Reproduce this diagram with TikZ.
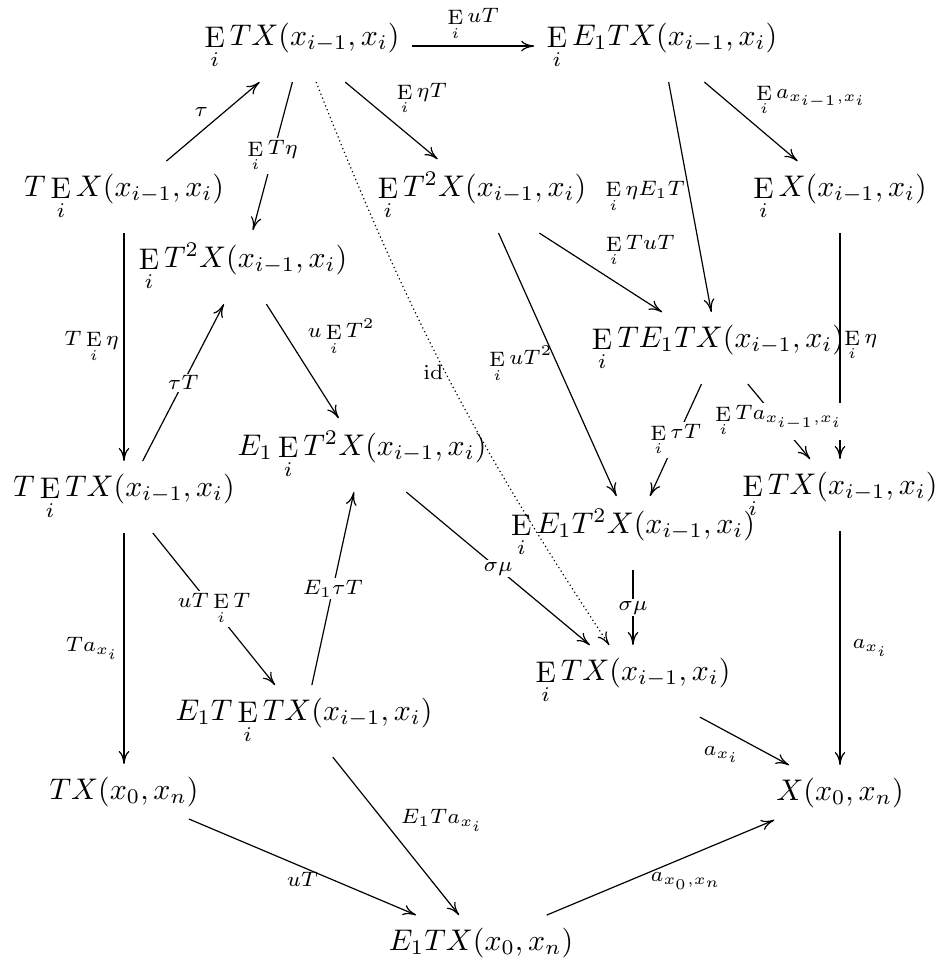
\documentclass[tikz,border=0pt]{standalone}
\usepackage{amsmath}
\usetikzlibrary{arrows.meta}
\newcommand{\Ei}{\mathop{\mathrm{E}}\limits_{i}}

\begin{document}
\begin{tikzpicture}[
	x=0.335pt, y=-0.335pt,
	>={Computer Modern Rightarrow[length=4.4pt,width=3.6pt]},
	obj/.style={anchor=base, inner sep=4pt},
	lbl/.style={font=\scriptsize, inner sep=1.5pt},
	onlbl/.style={font=\scriptsize, fill=white, inner sep=0.6pt, midway}
	]

	\useasboundingbox (0,0) rectangle (944,963);

	% ================= objects =================
	\node[obj] (etx)    at (302,45)  {$\Ei TX(x_{i-1},x_i)$};
	\node[obj] (ee1tx)  at (662,45)  {$\Ei E_1TX(x_{i-1},x_i)$};

	\node[obj] (tex)    at (124,196) {$T\Ei X(x_{i-1},x_i)$};
	\node[obj] (et2x)   at (482,196) {$\Ei T^2X(x_{i-1},x_i)$};
	\node[obj] (ex)     at (840,196) {$\Ei X(x_{i-1},x_i)$};

	\node[obj] (et2xl)  at (243,267) {$\Ei T^2X(x_{i-1},x_i)$};
	\node[obj] (ete1tx) at (718,347) {$\Ei TE_1TX(x_{i-1},x_i)$};
	\node[obj] (e1et2x) at (362,455) {$E_1\Ei T^2X(x_{i-1},x_i)$};

	\node[obj] (tetx)   at (124,496) {$T\Ei TX(x_{i-1},x_i)$};
	\node[obj] (etxr)   at (840,494) {$\Ei TX(x_{i-1},x_i)$};
	\node[obj] (ee1t2x) at (633,533) {$\Ei E_1T^2X(x_{i-1},x_i)$};

	\node[obj] (etxm)   at (633,680) {$\Ei TX(x_{i-1},x_i)$};
	\node[obj] (e1tetx) at (304,720) {$E_1T\Ei TX(x_{i-1},x_i)$};

	\node[obj] (txon)   at (124,799) {$TX(x_0,x_n)$};
	\node[obj] (xon)    at (840,800) {$X(x_0,x_n)$};
	\node[obj] (e1txon) at (481,950) {$E_1TX(x_0,x_n)$};

	% ================= maps =================
	\draw[->] (etx) -- node[lbl, above] {$\Ei uT$} (ee1tx);
	\draw[->] (tex) -- node[lbl, above left] {$\tau$} (etx);
	\draw[->] (etx) -- node[onlbl] {$\Ei T\eta$} (et2xl);
	\draw[->] (etx) -- node[lbl, above right] {$\Ei \eta T$} (et2x);
	\draw[->] (ee1tx) -- node[lbl, above right] {$\Ei a_{x_{i-1},x_i}$} (ex);
	\draw[->] (ee1tx) -- node[lbl, left] {$\Ei \eta E_1T$} (ete1tx);

	\draw[->, densely dotted] (etx) to[bend right=6]
		node[lbl, left, inner sep=0.5pt] {$\mathrm{id}$} (etxm);

	\draw[->] (tex) -- node[lbl, left] {$T\Ei \eta$} (tetx);
	\draw[->] (tetx) -- node[onlbl] {$\tau T$} (et2xl);
	\draw[->] (et2xl) -- node[lbl, above right] {$u\Ei T^2$} (e1et2x);
	\draw[->] (et2x) -- node[lbl, above right] {$\Ei TuT$} (ete1tx);
	\draw[->] (et2x) -- node[lbl, left] {$\Ei uT^2$} (ee1t2x);
	\draw[->] (ex) -- node[lbl, right, inner sep=1.2pt] {$\Ei \eta$} (etxr);

	\draw[->] (ete1tx) -- node[onlbl] {$\Ei \tau T$} (ee1t2x);
	\draw[->] (ete1tx) -- node[onlbl] {$\Ei Ta_{x_{i-1},x_i}$} (etxr);
	\draw[->] (tetx) -- node[onlbl] {$uT\Ei T$} (e1tetx);
	\draw[->] (e1tetx) -- node[onlbl] {$E_1\tau T$} (e1et2x);
	\draw[->] (e1et2x) -- node[onlbl] {$\sigma\mu$} (etxm);
	\draw[->] (ee1t2x) -- node[onlbl] {$\sigma\mu$} (etxm);

	\draw[->] (etxr) -- node[lbl, right, inner sep=4pt] {$a_{x_i}$} (xon);
	\draw[->] (etxm) -- node[lbl, below left] {$a_{x_i}$} (xon);
	\draw[->] (tetx) -- node[lbl, left] {$Ta_{x_i}$} (txon);
	\draw[->] (txon) -- node[lbl, below] {$uT$} (e1txon);
	\draw[->] (e1tetx) -- node[lbl, above right] {$E_1Ta_{x_i}$} (e1txon);
	\draw[->] (e1txon) -- node[lbl, below right, xshift=-5pt] {$a_{x_0,x_n}$} (xon);

\end{tikzpicture}
\end{document}
